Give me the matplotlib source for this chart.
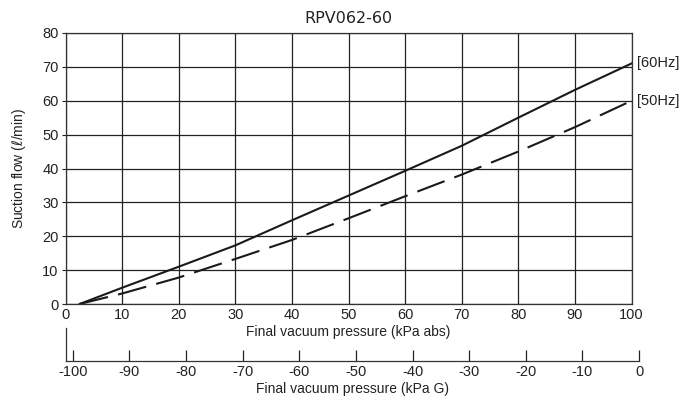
import matplotlib
matplotlib.use("Agg")
import matplotlib.pyplot as plt
import numpy as np

plt.rcParams['font.family'] = ['Liberation Sans', 'DejaVu Sans']
plt.rcParams['axes.unicode_minus'] = False

#---------------------------------------------------------------------------------------------------
# data
p_abs = [2.5, 10, 20, 30, 40, 50, 60, 70, 80, 90, 100]
flow_60 = [0, 4.8, 11, 17.3, 24.7, 32, 39.3, 46.7, 55, 63.2, 71]
flow_50 = [0, 3.1, 7.8, 13.3, 18.9, 25.3, 31.8, 38.2, 45, 52.2, 60]

x_ticks = [0, 10, 20, 30, 40, 50, 60, 70, 80, 90, 100]
y_ticks = [0, 10, 20, 30, 40, 50, 60, 70, 80]
g_ticks = [-100, -90, -80, -70, -60, -50, -40, -30, -20, -10, 0]
line_labels = ["[60Hz]", "[50Hz]"]

#---------------------------------------------------------------------------------------------------
fig = plt.figure(figsize=(6.96, 4.07), dpi=100)
W, H = 696, 407
ax = fig.add_axes([65.5 / W, (H - 304) / H, 566 / W, 271 / H])

ax.plot(p_abs, flow_60, color='#1a1a1a', lw=1.5)
ax.plot(p_abs, flow_50, color='#1a1a1a', lw=1.5, dashes=(14, 5))

ax.set_xlim(0, 100)
ax.set_ylim(0, 80)
ax.set_xticks(x_ticks)
ax.set_yticks(y_ticks)
ax.grid(True, color='#222222', lw=0.9)
for s in ax.spines.values():
    s.set_color('#333333')
    s.set_linewidth(0.9)
ax.tick_params(axis='x', length=0, labelsize=10.5, pad=3, colors='#222222')
ax.tick_params(axis='y', length=3, labelsize=10.5, pad=2, colors='#222222')
ax.set_xlabel("Final vacuum pressure (kPa abs)", fontsize=10, labelpad=2, color='#222222')
ax.set_ylabel(r"Suction flow ($\ell$/min)", fontsize=10, labelpad=10, color='#222222')
ax.set_title("RPV062-60", fontsize=11.5, pad=7, color='#222222', family=['DejaVu Sans'])

ax.text(101, flow_60[-1], line_labels[0], fontsize=10.5, va='center', ha='left', color='#222222', clip_on=False)
ax.text(101, flow_50[-1], line_labels[1], fontsize=10.5, va='center', ha='left', color='#222222', clip_on=False)

# secondary gauge-pressure axis
ax2 = fig.add_axes([65.5 / W, (H - 361) / H, (639 - 65.5) / W, 33 / H])
ax2.set_xlim(-101.3, 0)
ax2.set_ylim(0, 1)
ax2.patch.set_visible(False)
ax2.spines['top'].set_visible(False)
ax2.spines['right'].set_visible(False)
for s in ['left', 'bottom']:
    ax2.spines[s].set_color('#333333')
    ax2.spines[s].set_linewidth(0.9)
ax2.set_yticks([])
ax2.set_xticks(g_ticks)
ax2.tick_params(axis='x', direction='in', length=8, width=0.9, labelsize=10.5, pad=3, colors='#222222')
ax2.set_xlabel("Final vacuum pressure (kPa G)", fontsize=10, labelpad=2, color='#222222')

fig.savefig("out.png", dpi=100)
